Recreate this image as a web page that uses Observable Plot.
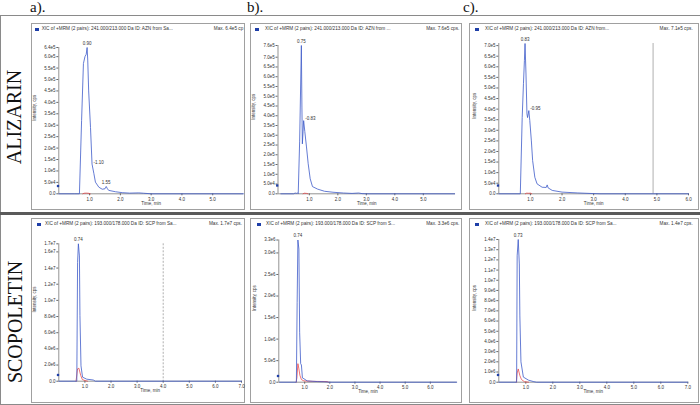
<!DOCTYPE html>
<html><head><meta charset="utf-8">
<script src="https://cdn.jsdelivr.net/npm/d3@7"></script>
<script src="https://cdn.jsdelivr.net/npm/@observablehq/plot@0.6"></script>
<style>
body{margin:0;background:#fff;}
#fig{position:relative;width:700px;height:405px;overflow:hidden;font-family:"Liberation Sans",Arial,sans-serif;}
.col{position:absolute;top:0;line-height:1;font-family:"Liberation Serif","Times New Roman",serif;font-size:15px;color:#111;}
.row{position:absolute;line-height:1;font-family:"Liberation Serif","Times New Roman",serif;font-size:20px;color:#111;transform:translate(-50%,-50%) rotate(-90deg);white-space:nowrap;}
.panel{position:absolute;border:1px solid #a0a0a0;background:#fff;box-sizing:border-box;}
.hdr{position:absolute;font-size:4.7px;line-height:1;color:#333;white-space:nowrap;transform:translateY(-50%);}
.sq{position:absolute;width:4px;height:3px;background:#1f3fa8;}
.ln{position:absolute;background:#8a8a8a;}
svg{position:absolute;}
</style></head><body><div id="fig"></div>
<script>
// ---------- DATA ----------
const columnLabels = ["a).", "b).", "c)."];
const rowLabels = ["ALIZARIN", "SCOPOLETIN"];

const headerAZN_a = "XIC of +MRM (2 pairs): 241.000/213.000 Da ID: AZN from Sa...";
const headerAZN_b = "XIC of +MRM (2 pairs): 241.000/213.000 Da ID: AZN from ...";
const headerAZN_c = "XIC of +MRM (2 pairs): 241.000/213.000 Da ID: AZN from...";
const headerSCP_a = "XIC of +MRM (2 pairs): 193.000/178.000 Da ID: SCP from Sa...";
const headerSCP_b = "XIC of +MRM (2 pairs): 193.000/178.000 Da ID: SCP from S...";
const headerSCP_c = "XIC of +MRM (2 pairs): 193.000/178.000 Da ID: SCP from Sa...";
const maxLabels = ["Max. 6.4e5 cp", "Max. 7.6e5 cps.", "Max. 7.1e5 cps.", "Max. 1.7e7 cps.", "Max. 3.3e6 cps.", "Max. 1.4e7 cps."];

const xAxisTitle = "Time, min";
const yAxisTitle = "Intensity, cps";

// x tick values / labels
const xTicks5 = [1, 2, 3, 4, 5];
const xLabels5 = ["1.0", "2.0", "3.0", "4.0", "5.0"];
const xTicks6 = [1, 2, 3, 4, 5, 6];
const xLabels6 = ["1.0", "2.0", "3.0", "4.0", "5.0", "6.0"];
const xTicks7 = [1, 2, 3, 4, 5, 6, 7];
const xLabels7 = ["1.0", "2.0", "3.0", "4.0", "5.0", "6.0", "7.0"];

// y tick values / labels
const yTicksA1 = [0, 5e4, 1e5, 1.5e5, 2e5, 2.5e5, 3e5, 3.5e5, 4e5, 4.5e5, 5e5, 5.5e5, 6e5, 6.4e5];
const yLabelsA1 = ["0.0", "5.0e4", "1.0e5", "1.5e5", "2.0e5", "2.5e5", "3.0e5", "3.5e5", "4.0e5", "4.5e5", "5.0e5", "5.5e5", "6.0e5", "6.4e5"];
const yTicksB1 = [0, 5e4, 1e5, 1.5e5, 2e5, 2.5e5, 3e5, 3.5e5, 4e5, 4.5e5, 5e5, 5.5e5, 6e5, 6.5e5, 7e5, 7.6e5];
const yLabelsB1 = ["0.0", "5.0e4", "1.0e5", "1.5e5", "2.0e5", "2.5e5", "3.0e5", "3.5e5", "4.0e5", "4.5e5", "5.0e5", "5.5e5", "6.0e5", "6.5e5", "7.0e5", "7.6e5"];
const yTicksC1 = [0, 5e4, 1e5, 1.5e5, 2e5, 2.5e5, 3e5, 3.5e5, 4e5, 4.5e5, 5e5, 5.5e5, 6e5, 6.5e5, 7e5];
const yLabelsC1 = ["0.0", "5.0e4", "1.0e5", "1.5e5", "2.0e5", "2.5e5", "3.0e5", "3.5e5", "4.0e5", "4.5e5", "5.0e5", "5.5e5", "6.0e5", "6.5e5", "7.0e5"];
const yTicksA2 = [0, 2e6, 4e6, 6e6, 8e6, 1e7, 1.2e7, 1.4e7, 1.6e7, 1.7e7];
const yLabelsA2 = ["0.0", "2.0e6", "4.0e6", "6.0e6", "8.0e6", "1.0e7", "1.2e7", "1.4e7", "1.6e7", "1.7e7"];
const yTicksB2 = [0, 5e5, 1e6, 1.5e6, 2e6, 2.5e6, 3e6, 3.3e6];
const yLabelsB2 = ["0.0", "5.0e5", "1.0e6", "1.5e6", "2.0e6", "2.5e6", "3.0e6", "3.3e6"];
const yTicksC2 = [0, 1e6, 2e6, 3e6, 4e6, 5e6, 6e6, 7e6, 8e6, 9e6, 1e7, 1.1e7, 1.2e7, 1.3e7, 1.4e7];
const yLabelsC2 = ["0.0", "1.0e6", "2.0e6", "3.0e6", "4.0e6", "5.0e6", "6.0e6", "7.0e6", "8.0e6", "9.0e6", "1.0e7", "1.1e7", "1.2e7", "1.3e7", "1.4e7"];

// traces: [time (min), intensity (cps)]
const blueA1 = [[0,0],[0.5,0],[0.67,0],[0.74,3.2e5],[0.80,5.7e5],[0.85,6.0e5],[0.89,6.1e5],[0.92,6.4e5],[0.94,5.85e5],[0.97,4.5e5],[1.03,2.9e5],[1.08,1.3e5],[1.14,8.8e4],[1.19,5.1e4],[1.30,2.9e4],[1.41,2.0e4],[1.50,2.2e4],[1.54,3.2e4],[1.58,2.2e4],[1.62,1.5e4],[1.84,9e3],[2.06,5e3],[2.3,3e3],[2.6,4e3],[2.75,2.5e3],[3.0,0],[6.0,0]];
const redA1 = [[0.78,0],[0.82,2.5e3],[0.9,3e3],[0.98,2e3],[1.02,0]];
const peaksA1 = [{t:0.92, v:6.4e5, label:"0.90", side:false},{t:1.08, v:1.3e5, label:"1.10", side:true},{t:1.54, v:3.2e4, label:"1.55", side:false}];
const thrA1 = 3.4e4;

const blueB1 = [[0,0],[0.45,0],[0.5,4e3],[0.55,2e3],[0.58,5e3],[0.61,0],[0.66,2.7e5],[0.72,7.6e5],[0.74,4.4e5],[0.755,2.56e5],[0.80,3.75e5],[0.84,3.2e5],[0.90,2.4e5],[0.96,1.54e5],[1.03,7.7e4],[1.11,3.7e4],[1.29,2.4e4],[1.53,1.3e4],[1.83,8e3],[2.2,4e3],[2.5,2e3],[2.73,4e3],[2.85,1e3],[3.0,0],[6.1,0]];
const redB1 = [[0.78,0],[0.82,3e3],[0.9,2e3],[0.95,0]];
const peaksB1 = [{t:0.72, v:7.6e5, label:"0.75", side:false},{t:0.80, v:3.75e5, label:"0.83", side:true}];
const thrB1 = 4.25e4;

const blueC1 = [[0,0],[0.68,0],[0.74,3.6e5],[0.78,5.2e5],[0.81,6.3e5],[0.83,7.1e5],[0.86,5.66e5],[0.89,3.78e5],[0.91,3.6e5],[0.95,3.93e5],[0.98,3.46e5],[1.03,2.5e5],[1.07,1.57e5],[1.14,7.8e4],[1.21,4.7e4],[1.37,3.1e4],[1.50,3.0e4],[1.53,4.2e4],[1.56,2.8e4],[1.69,1.6e4],[2.0,8e3],[2.5,4e3],[3.0,1e3],[3.2,0],[6,0]];
const redC1 = [[0.84,0],[0.88,3e3],[0.95,2.5e3],[1.0,3e3],[1.04,0]];
const peaksC1 = [{t:0.83, v:7.1e5, label:"0.83", side:false},{t:0.95, v:3.93e5, label:"0.95", side:true}];
const thrC1 = 3.9e4;
const markerC1 = 4.88;

const blueA2 = [[0,0],[0.69,0],[0.72,1.47e7],[0.75,1.7e7],[0.79,1.55e7],[0.81,8.1e6],[0.85,1.9e6],[0.91,5e5],[1.07,2.5e5],[1.32,1.5e5],[1.4,0],[7,0]];
const redA2 = [[0.66,0],[0.72,1.53e6],[0.77,1.6e6],[0.84,7.1e5],[0.90,2.1e5],[1.0,8e4],[1.1,0]];
const peaksA2 = [{t:0.75, v:1.7e7, label:"0.74", side:false}];
const thrA2 = 7.7e5;
const markerA2 = 4.0;

const blueB2 = [[0,0],[0.67,0],[0.70,1.85e6],[0.73,3.3e6],[0.77,3.09e6],[0.80,1.16e6],[0.84,4.3e5],[0.87,4.0e5],[0.91,1.0e5],[0.97,8e4],[1.1,3e4],[1.5,1.5e4],[1.8,1e4],[2.0,0],[7.05,0]];
const redB2 = [[0.66,0],[0.69,1e5],[0.73,4.3e5],[0.77,3.1e5],[0.81,1.6e5],[0.87,6e4],[0.97,3e4],[1.3,2e4],[1.9,1.5e4],[1.95,0]];
const peaksB2 = [{t:0.73, v:3.3e6, label:"0.74", side:false}];
const thrB2 = 1.44e5;

const blueC2 = [[0,0],[0.66,0],[0.68,1.24e7],[0.72,1.4e7],[0.76,1.16e7],[0.78,6.5e6],[0.82,2e6],[0.91,5e5],[1.1,2e5],[1.3,5e4],[1.4,0],[7,0]];
const redC2 = [[0.65,0],[0.68,9e5],[0.72,1.3e6],[0.78,6.5e5],[0.84,2.6e5],[0.95,5e4],[1.1,0]];
const peaksC2 = [{t:0.72, v:1.4e7, label:"0.73", side:false}];
const thrC2 = 7.1e5;

// ---------- LAYOUT ----------
const panels = [
  {box:[31,23,245,210], area:[58.3,47,243,193.3], sq:35, tx:41.7, mx:243.3, hy:29, header:headerAZN_a, max:maxLabels[0], xDomain:[0,6], yDomain:[0,6.4e5], xTicks:xTicks5, xLabels:xLabels5, yTicks:yTicksA1, yLabels:yLabelsA1, blue:blueA1, red:redA1, peaks:peaksA1, thr:thrA1, vline:null},
  {box:[250,23,462,210], area:[277.5,45,455,193.3], sq:255, tx:265, mx:459.3, hy:29, header:headerAZN_b, max:maxLabels[1], xDomain:[-0.1,6.13], yDomain:[0,7.6e5], xTicks:xTicks5, xLabels:xLabels5, yTicks:yTicksB1, yLabels:yLabelsB1, blue:blueB1, red:redB1, peaks:peaksB1, thr:thrB1, vline:null},
  {box:[469,23,699,210], area:[498.3,43,688,193.3], sq:475, tx:485, mx:692.7, hy:29, header:headerAZN_c, max:maxLabels[2], xDomain:[0,6], yDomain:[0,7.1e5], xTicks:xTicks6, xLabels:xLabels6, yTicks:yTicksC1, yLabels:yLabelsC1, blue:blueC1, red:redC1, peaks:peaksC1, thr:thrC1, vline:markerC1, dash:false},
  {box:[31,218,245,403], area:[58.3,243.3,241,380.7], sq:37, tx:45, mx:242, hy:224, header:headerSCP_a, max:maxLabels[3], xDomain:[0,7], yDomain:[0,1.7e7], xTicks:xTicks7, xLabels:xLabels7, yTicks:yTicksA2, yLabels:yLabelsA2, blue:blueA2, red:redA2, peaks:peaksA2, thr:thrA2, vline:markerA2, dash:true},
  {box:[250,218,462,403], area:[278.3,239.5,456.7,381.7], sq:257, tx:266, mx:459.3, hy:224, header:headerSCP_b, max:maxLabels[4], xDomain:[-0.03,7.07], yDomain:[0,3.3e6], xTicks:xTicks6, xLabels:xLabels6, yTicks:yTicksB2, yLabels:yLabelsB2, blue:blueB2, red:redB2, peaks:peaksB2, thr:thrB2, vline:null},
  {box:[469,218,699,403], area:[498.3,239,687.3,381.7], sq:475, tx:485, mx:692.7, hy:224, header:headerSCP_c, max:maxLabels[5], xDomain:[0,7], yDomain:[0,1.4e7], xTicks:xTicks7, xLabels:xLabels7, yTicks:yTicksC2, yLabels:yLabelsC2, blue:blueC2, red:redC2, peaks:peaksC2, thr:thrC2, vline:null}
];

const fig = document.getElementById("fig");
function el(cls, css, text) {
  const d = document.createElement("div");
  d.className = cls;
  Object.assign(d.style, css);
  if (text != null) d.textContent = text;
  fig.appendChild(d);
  return d;
}

// frame lines
el("ln", {left:"0px", top:"15px", width:"700px", height:"1px"});
el("ln", {left:"0px", top:"15px", width:"1px", height:"390px"});
el("ln", {left:"0px", top:"404px", width:"700px", height:"1px"});
el("ln", {left:"0px", top:"211.5px", width:"700px", height:"3px", background:"#5a5a5a"});

// column & row labels
[30, 247, 463].forEach((x, i) => el("col", {left: x + "px"}, columnLabels[i]));
el("row", {left:"14px", top:"117px"}, rowLabels[0]);
el("row", {left:"15px", top:"322px"}, rowLabels[1]);

const toObj = arr => arr.map(([t, v]) => ({t, v}));

panels.forEach(p => {
  const [bl, bt, br, bb] = p.box;
  const [x0, y0, x1, y1] = p.area;
  el("panel", {left: bl + "px", top: bt + "px", width: (br - bl) + "px", height: (bb - bt) + "px"});
  el("sq", {left: p.sq + "px", top: (p.hy - 1.5) + "px"});
  el("hdr", {left: p.tx + "px", top: p.hy + "px"}, p.header);
  const m = el("hdr", {top: p.hy + "px"}, p.max);
  m.style.left = (p.mx - m.getBoundingClientRect().width) + "px";

  const yFmt = new Map(p.yTicks.map((v, i) => [v, p.yLabels[i]]));
  const xFmt = new Map(p.xTicks.map((v, i) => [v, p.xLabels[i]]));
  const marks = [];
  if (p.vline != null) marks.push(Plot.ruleX([p.vline], {stroke: "#8c8c8c", strokeWidth: 0.7, strokeDasharray: p.dash ? "2,1.5" : null}));
  marks.push(
    Plot.ruleY([0], {stroke: "#666", strokeWidth: 0.7}),
    Plot.ruleX([p.xDomain[0]], {stroke: "#666", strokeWidth: 0.7}),
    Plot.axisY({ticks: p.yTicks, tickFormat: d => yFmt.get(d), tickSize: 2, tickPadding: 1.2, label: null, stroke: "#666"}),
    Plot.axisX({ticks: p.xTicks, tickFormat: d => xFmt.get(d), tickSize: 2, tickPadding: 1.8, label: null, stroke: "#666"}),
    Plot.line(toObj(p.red), {x: "t", y: "v", stroke: "#e8383a", strokeWidth: 0.7}),
    Plot.line(toObj(p.blue), {x: "t", y: "v", stroke: "#3d5bc9", strokeWidth: 0.8}),
    Plot.text(p.peaks.filter(d => !d.side), {x: "t", y: "v", text: "label", dy: -4, fill: "#333"}),
    Plot.text(p.peaks.filter(d => d.side), {x: "t", y: "v", text: d => "-" + d.label, textAnchor: "start", dx: 1.5, dy: -2, fill: "#333"}),
    Plot.dot([{t: p.xDomain[0], v: p.thr}], {x: "t", y: "v", symbol: "square", r: 1.3, fill: "#1f3fa8", dx: -0.8}),
    Plot.text([xAxisTitle], {text: d => d, frameAnchor: "bottom", dy: 11, fill: "#333"}),
    Plot.text([yAxisTitle], {text: d => d, frameAnchor: "left", rotate: -90, dx: -24, fill: "#333"})
  );
  const svg = Plot.plot({
    width: br - bl, height: bb - bt,
    marginLeft: x0 - bl, marginRight: br - x1, marginTop: y0 - bt, marginBottom: bb - y1,
    x: {domain: p.xDomain}, y: {domain: p.yDomain},
    style: {fontSize: "4.5px", fontFamily: "'Liberation Sans', Arial, sans-serif", color: "#333", background: "none", overflow: "visible"},
    marks
  });
  svg.style.left = bl + "px";
  svg.style.top = bt + "px";
  fig.appendChild(svg);
});
</script></body></html>
